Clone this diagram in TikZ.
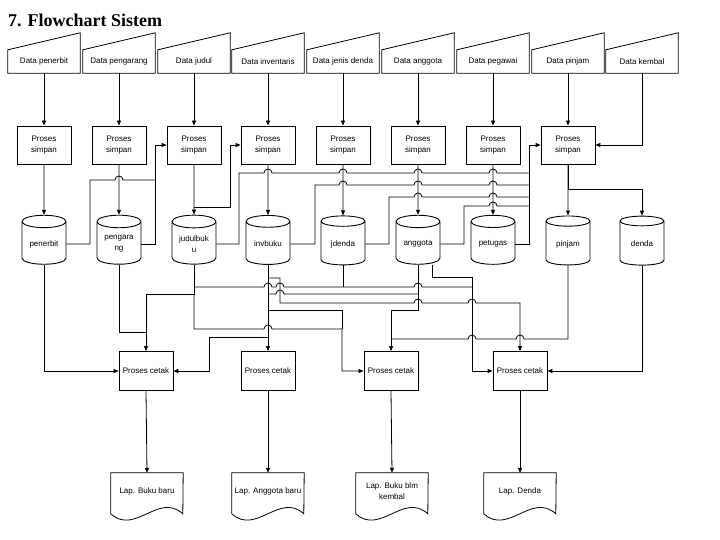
\documentclass[tikz,border=0pt]{standalone}
\usepackage{fontspec}
\setmainfont{Liberation Sans}
\newfontfamily\titlefont{Liberation Serif}
\usetikzlibrary{arrows.meta,positioning,calc,shapes.geometric}

\tikzset{
  base/.style={font=\fontsize{8}{11}\selectfont, align=center, inner sep=1pt},
  datain/.style={base, minimum width=72pt, minimum height=23pt},
  simpan/.style={base, draw, line width=0.8pt, minimum width=54pt, minimum height=38pt},
  cetak/.style={base, draw, line width=0.8pt, minimum width=54pt, minimum height=39pt},
  dbase/.style={base, draw, line width=0.9pt, cylinder, shape border rotate=90, aspect=0.4,
        minimum width=44pt, minimum height=49pt},
  lapdoc/.style={base, minimum width=72pt, minimum height=36pt},
  line/.style={line width=0.8pt},
  arr/.style={-{Triangle[length=5pt,width=4pt]}},
}
% line jumps: left-to-right and right-to-left
\newcommand{\jr}[2]{-- (#1-4,#2) arc[start angle=180,end angle=0,radius=4pt]}
\newcommand{\jl}[2]{-- (#1+4,#2) arc[start angle=0,end angle=180,radius=4pt]}

\begin{document}
\begin{tikzpicture}[x=1pt,y=-1pt]
  \useasboundingbox[fill=white] (0,0) rectangle (720,540);

  \node[anchor=base west, inner sep=0pt, font=\titlefont\fontsize{18}{20}\selectfont\bfseries]
    (title) at (8,27) {7. Flowchart Sistem};

  % input data
  \foreach \n/\x/\t in {penerbit/44/Data penerbit, pengarang/119/Data pengarang,
      judul/194/Data judul, inv/268/Data inventaris, jdenda/343/Data jenis denda,
      anggota/418/Data anggota, petugas/493/Data pegawai, pinjam/568/Data pinjam,
      kembali/642/Data kembal}
    \node[datain] (in\n) at (\x,61.5) {\t};
  \foreach \n in {penerbit,pengarang,judul,inv,jdenda,anggota,petugas,pinjam,kembali}
    \draw[line] (in\n.south west) -- (in\n.south east) -- ([yshift=17pt]in\n.north east)
      -- (in\n.north west) -- cycle;

  % proses simpan
  \foreach \n/\x in {penerbit/44, pengarang/119, judul/194, inv/268, jdenda/343,
      anggota/418, petugas/493, pinjam/568}
    \node[simpan] (sp\n) at (\x,145) {Proses\\simpan};

  % database
  \foreach \n/\x/\t in {penerbit/44/penerbit, pengarang/119/pengara\\ng,
      judul/194/judulbuk\\u, inv/268/invbuku, jdenda/343/jdenda, anggota/418/anggota,
      petugas/493/petugas, pinjam/568/pinjam, denda/642/denda}
    \node[dbase] (db\n) at (\x,244) {\t};

  % proses cetak dan laporan
  \node[cetak] (ctbuku) at (146,371) {Proses cetak};
  \node[cetak] (ctanggota) at (268,371) {Proses cetak};
  \node[cetak] (ctblm) at (391,371) {Proses cetak};
  \node[cetak] (ctdenda) at (520,371) {Proses cetak};
  \node[lapdoc] (lapbuku) at (147,491) {Lap. Buku baru};
  \node[lapdoc] (lapanggota) at (268,491) {Lap. Anggota baru};
  \node[lapdoc] (lapblm) at (392,491) {Lap. Buku blm\\kembal};
  \node[lapdoc] (lapdenda) at (520,491) {Lap. Denda};
  \foreach \n in {buku,anggota,blm,denda}
    \draw[line] (lap\n.north west) -- ++(0,41) .. controls +(24,22) and +(-24,-22) .. ++(72,0)
      -- (lap\n.north east) -- cycle;

  % input -> simpan -> database
  \foreach \n in {penerbit,pengarang,judul,inv,jdenda,anggota,petugas,pinjam} {
    \draw[line,arr] (in\n.south) -- (sp\n.north);
    \draw[line,arr] (sp\n.south) -- (db\n.north);
  }
  \draw[line,arr] (inkembali.south) |- (sppinjam.east);
  \draw[line,arr] (sppinjam.south) -- ++(0,25) -| (dbdenda.north);

  % database -> proses simpan
  \draw[line,arr] (dbpengarang.east) -- ++(14,0) |- (spjudul.west);
  \draw[line] (dbpenerbit.east) -| (90,180) \jr{119}{180} -- (155,180);
  \draw[line,arr] ([yshift=7pt]dbjudul.north) -- ++(36,0) |- (spinv.west);
  \draw[line] (dbjudul.east) -| (239,173) \jr{268}{173} \jr{343}{173} \jr{418}{173}
    \jr{493}{173} -- (529,173);
  \draw[line] (dbinv.east) -| (315,185) \jr{343}{185} \jr{418}{185} \jr{493}{185} -- (529,185);
  \draw[line] (dbjdenda.east) -| (389,197) \jr{418}{197} \jr{493}{197} -- (529,197);
  \draw[line] (dbanggota.east) -| (464,206) \jr{493}{206} -- (529,206);
  \draw[line,arr] (dbpetugas.east) -- ++(14,0) |- (sppinjam.west);

  % database -> proses cetak
  \coordinate (jInvA) at (268,278);
  \coordinate (jInvB) at (268,294);
  \coordinate (jInvC) at (268,310);
  \coordinate (jInvD) at (268,337);
  \coordinate (jJudul) at (194,287);
  \draw[line,arr] (dbpenerbit.south) |- (ctbuku.west);
  \draw[line] (dbpengarang.south) |- (146,332);
  \draw[line,arr] (dbjudul.south) -- (194,294) -| (ctbuku.north);
  \draw[line,arr] (194,294) -- (194,329) \jr{268}{329} -- (342,329) |- (ctblm.west);
  \draw[line] (jJudul) \jr{268}{287} \jr{280}{287} \jr{418}{287} -- (472,287);
  \draw[line] (dbjdenda.south) -- (343,287);
  \draw[line,arr] ([xshift=14pt]dbanggota.south) |- (472,277) |- (ctdenda.west);
  \draw[line,arr] (dbinv.south) -- (ctanggota.north);
  \draw[line,arr] (jInvA) -| (280,303) \jr{418}{303} \jr{472}{303} -| (ctdenda.north);
  \draw[line] (jInvB) \jr{280}{294} -- (418,294);
  \draw[line] (jInvC) -- (342,310) -- (342,329);
  \draw[line,arr] (jInvD) -- (209,337) |- (ctbuku.east);
  \draw[line,arr] (dbanggota.south) -- (418,310) -| (ctblm.north);
  \draw[line] (dbpinjam.south) -- (568,339) \jl{520}{339} \jl{472}{339} -- (391,339);
  \draw[line,arr] (dbdenda.south) |- (ctdenda.east);

  % proses cetak -> laporan
  \foreach \n in {buku,anggota,blm,denda}
    \draw[line,arr] (ct\n.south) -- (lap\n.north);
\end{tikzpicture}
\end{document}
